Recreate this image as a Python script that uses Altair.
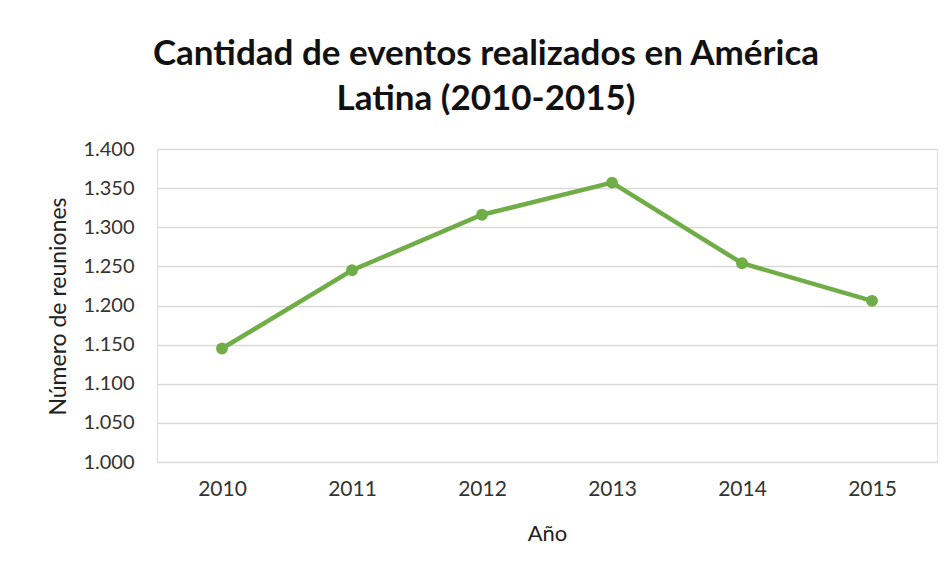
import altair as alt
import pandas as pd

years = ["2010", "2011", "2012", "2013", "2014", "2015"]
reuniones = [1145, 1245, 1316, 1357, 1254, 1206]
y_ticks = [1000, 1050, 1100, 1150, 1200, 1250, 1300, 1350, 1400]

df = pd.DataFrame({"Año": years, "Reuniones": reuniones})

FONT = "Lato"
GREEN = "#70AD47"

x = alt.X(
    "Año:O",
    sort=years,
    scale=alt.Scale(type="point", padding=0.5),
    axis=alt.Axis(
        title="Año",
        labelAngle=0,
        domain=False,
        ticks=False,
        labelPadding=16,
        labelFontSize=21,
        labelFont=FONT,
        labelColor="#333333",
        titleFont=FONT,
        titleFontSize=22,
        titleFontWeight="normal",
        titleColor="#222222",
        titleY=71,
        titleBaseline="middle",
    ),
)
y = alt.Y(
    "Reuniones:Q",
    scale=alt.Scale(domain=[1000, 1400], nice=False, zero=False),
    axis=alt.Axis(
        title="Número de reuniones",
        values=y_ticks,
        labelExpr="replace(format(datum.value, ',.0f'), ',', '.')",
        domain=False,
        ticks=False,
        grid=True,
        gridColor="#d9d9d9",
        gridWidth=1.5,
        labelPadding=23,
        labelFontSize=20,
        labelFont=FONT,
        labelColor="#333333",
        titleFont=FONT,
        titleFontSize=23,
        titleFontWeight="normal",
        titleColor="#222222",
        titleX=-99,
        titleY=157,
        titleAlign="center",
        titleBaseline="middle",
        titleAngle=-90,
    ),
)

line = alt.Chart(df).mark_line(color=GREEN, strokeWidth=4.5).encode(x=x, y=y)
pts = alt.Chart(df).mark_circle(color=GREEN, size=140, opacity=1).encode(x=x, y=y)

chart = (
    alt.layer(line, pts)
    .properties(
        width=780,
        height=313,
        autosize=alt.AutoSizeParams(type="none"),
        padding={"left": 149, "top": 141, "right": 7, "bottom": 100},
        title=alt.TitleParams(
            text=["Cantidad de eventos realizados en América", "Latina (2010-2015)"],
            font=FONT,
            fontSize=35,
            fontWeight="bold",
            color="#111111",
            lineHeight=45,
            anchor="middle",
            dx=-61,
            offset=22,
        ),
    )
    .configure_view(stroke=None)
    .configure(background="white")
)

chart.save("out.html", embed_options={"renderer": "svg", "actions": False})
